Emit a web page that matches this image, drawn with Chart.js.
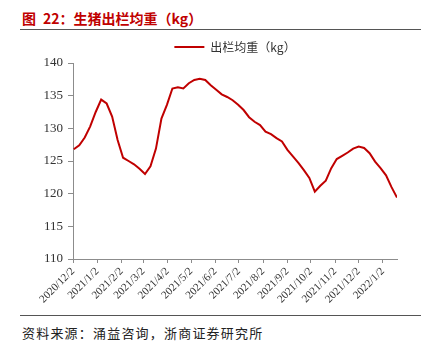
<!DOCTYPE html>
<html>
<head>
<meta charset="utf-8">
<script src="https://cdn.jsdelivr.net/npm/chart.js@4/dist/chart.umd.min.js"></script>
<style>
  html, body { margin: 0; padding: 0; background: #fff; }
  body { position: relative; width: 432px; height: 344px; overflow: hidden; }
  #title {
    position: absolute; left: 22px; top: 8px; line-height: 15px;
    font: bold 14px "Noto Sans CJK SC", sans-serif; color: #c00000; white-space: nowrap;
  }
  #title .gap { display: inline-block; width: 7px; }
  .rule { position: absolute; left: 20px; width: 401px; height: 1px; background: #555; }
  #chart { position: absolute; left: 0; top: 32px; }
  #source {
    position: absolute; left: 22px; top: 323px; line-height: 14px;
    font: 13px "Noto Sans CJK SC", sans-serif; color: #222; letter-spacing: 1.2px; white-space: nowrap;
  }
</style>
</head>
<body>
<div id="title">图<span class="gap"></span>22：生猪出栏均重（kg）</div>
<div class="rule" style="top:29px"></div>
<canvas id="chart" width="432" height="282"></canvas>
<div class="rule" style="top:315px"></div>
<div id="source">资料来源：涌益咨询，浙商证券研究所</div>
<script>
// Weekly sample dates (Thursdays)
const weekDates = [
  '2020-12-03','2020-12-10','2020-12-17','2020-12-24','2020-12-31',
  '2021-01-07','2021-01-14','2021-01-21','2021-01-28',
  '2021-02-04','2021-02-11','2021-02-18','2021-02-25',
  '2021-03-04','2021-03-11','2021-03-18','2021-03-25',
  '2021-04-01','2021-04-08','2021-04-15','2021-04-22','2021-04-29',
  '2021-05-06','2021-05-13','2021-05-20','2021-05-27',
  '2021-06-03','2021-06-10','2021-06-17','2021-06-24',
  '2021-07-01','2021-07-08','2021-07-15','2021-07-22','2021-07-29',
  '2021-08-05','2021-08-12','2021-08-19','2021-08-26',
  '2021-09-02','2021-09-09','2021-09-16','2021-09-23','2021-09-30',
  '2021-10-07','2021-10-14','2021-10-21','2021-10-28',
  '2021-11-04','2021-11-11','2021-11-18','2021-11-25',
  '2021-12-02','2021-12-09','2021-12-16','2021-12-23','2021-12-30',
  '2022-01-06','2022-01-13','2022-01-20'
];

// Average slaughter weight of hogs, kg
const avgWeight = [
  126.8, 127.4, 128.6, 130.3, 132.5,
  134.4, 133.8, 131.8, 128.2,
  125.5, 125.0, 124.5, 123.8,
  123.0, 124.2, 126.9, 131.5,
  133.6, 136.1, 136.3, 136.1, 136.9,
  137.4, 137.6, 137.4, 136.6,
  135.9, 135.2, 134.8, 134.3,
  133.6, 132.8, 131.7, 131.0, 130.5,
  129.5, 129.1, 128.5, 128.0,
  126.7, 125.7, 124.7, 123.6, 122.4,
  120.3, 121.2, 122.0, 123.9,
  125.3, 125.8, 126.3, 126.9,
  127.2, 127.0, 126.2, 124.9, 123.9,
  122.8, 121.0, 119.4
];

// Month tick dates and their labels
const tickDates = [
  '2020-12-02','2021-01-02','2021-02-02','2021-03-02','2021-04-02','2021-05-02','2021-06-02',
  '2021-07-02','2021-08-02','2021-09-02','2021-10-02','2021-11-02','2021-12-02','2022-01-02'
];
const tickLabels = [
  '2020/12/2','2021/1/2','2021/2/2','2021/3/2','2021/4/2','2021/5/2','2021/6/2',
  '2021/7/2','2021/8/2','2021/9/2','2021/10/2','2021/11/2','2021/12/2','2022/1/2'
];

const seriesName = '出栏均重（kg）';
const yTicks = { min: 110, max: 140, step: 5 };

// days counted from the first month tick
const origin = Date.parse(tickDates[0] + 'T00:00:00Z');
const toDay = s => Math.round((Date.parse(s + 'T00:00:00Z') - origin) / 86400000);
const tickDays = tickDates.map(toDay);
const labelByDay = {};
tickDays.forEach((d, i) => { labelByDay[d] = tickLabels[i]; });
const points = weekDates.map((d, i) => ({ x: toDay(d), y: avgWeight[i] }));

const red = '#c00000';
const axisGrey = '#8c8c8c';
const serif = 'Liberation Serif';

// keep the legend centred over the plot area rather than the whole canvas
const legendOverPlot = {
  id: 'legendOverPlot',
  afterLayout(chart) {
    const lg = chart.legend, ca = chart.chartArea;
    if (lg && ca) { lg.left = ca.left; lg.right = ca.right; lg.width = ca.right - ca.left; }
  }
};

new Chart(document.getElementById('chart'), {
  type: 'line',
  data: {
    datasets: [{
      label: seriesName,
      data: points,
      borderColor: red,
      backgroundColor: red,
      borderWidth: 2,
      pointRadius: 0,
      tension: 0
    }]
  },
  options: {
    responsive: false,
    devicePixelRatio: 1,
    animation: false,
    layout: { padding: { top: 0, right: 35, bottom: 0, left: 0 } },
    plugins: {
      legend: {
        display: true,
        position: 'top',
        labels: {
          boxWidth: 30,
          boxHeight: 2,
          padding: 9,
          color: '#333',
          font: { family: 'Noto Sans CJK SC', size: 12 },
          // legend swatch as a plain 2px line
          generateLabels: chart =>
            Chart.defaults.plugins.legend.labels.generateLabels(chart)
              .map(item => Object.assign(item, { lineWidth: 0 }))
        }
      },
      tooltip: { enabled: false }
    },
    scales: {
      x: {
        type: 'linear',
        min: 0,
        max: toDay(weekDates[weekDates.length - 1]),
        afterBuildTicks: scale => { scale.ticks = tickDays.map(v => ({ value: v })); },
        afterFit: scale => { scale.height = 55; },
        border: { color: axisGrey, width: 1 },
        grid: { drawOnChartArea: false, tickLength: 4, color: axisGrey },
        ticks: {
          autoSkip: false,
          maxRotation: 45,
          minRotation: 45,
          padding: 2,
          color: '#333',
          font: { family: serif, size: 11 },
          callback: v => labelByDay[v] ?? ''
        }
      },
      y: {
        min: yTicks.min,
        max: yTicks.max,
        afterFit: scale => { scale.width = 73; },
        border: { color: axisGrey, width: 1 },
        grid: { drawOnChartArea: false, tickLength: 5, color: axisGrey },
        ticks: {
          stepSize: yTicks.step,
          padding: 5,
          color: '#333',
          font: { family: serif, size: 13 }
        }
      }
    }
  },
  plugins: [legendOverPlot]
});
</script>
</body>
</html>
